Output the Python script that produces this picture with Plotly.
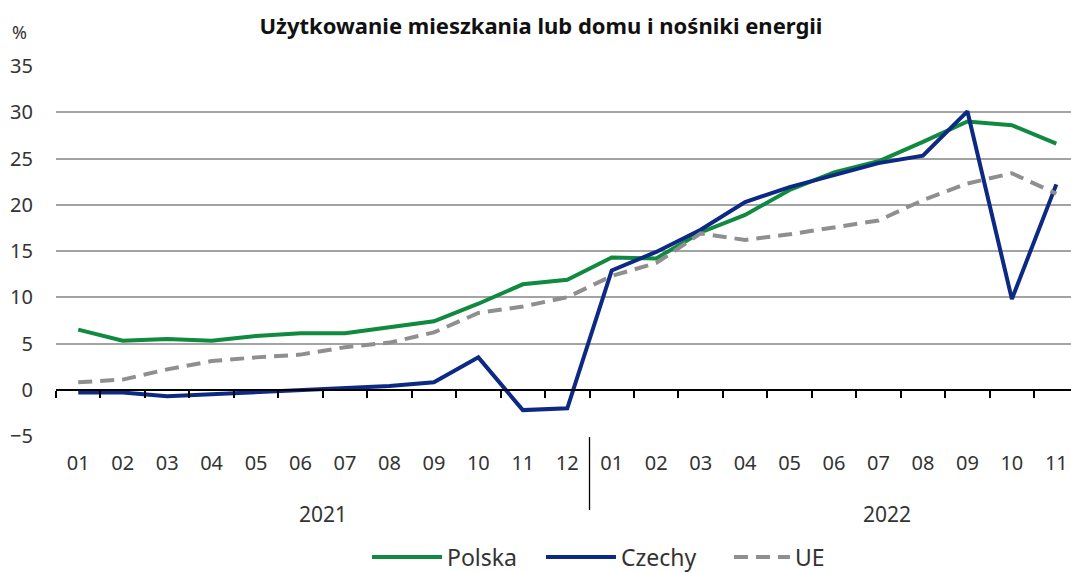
import plotly.graph_objects as go

months = ["01", "02", "03", "04", "05", "06", "07", "08", "09", "10", "11", "12",
          "01", "02", "03", "04", "05", "06", "07", "08", "09", "10", "11"]
years = ["2021", "2022"]

polska = [6.5, 5.3, 5.5, 5.3, 5.8, 6.1, 6.1, 6.7, 7.4, 9.3, 11.4, 11.9,
          14.3, 14.2, 17.0, 18.9, 21.6, 23.5, 24.7, 26.8, 29.0, 28.6, 26.6]
czechy = [-0.3, -0.3, -0.7, -0.5, -0.3, 0.0, 0.2, 0.4, 0.8, 3.5, -2.2, -2.0,
          12.9, 14.9, 17.3, 20.3, 21.9, 23.2, 24.5, 25.3, 30.1, 9.8, 22.2]
ue = [0.8, 1.1, 2.2, 3.1, 3.5, 3.8, 4.6, 5.1, 6.2, 8.3, 9.0, 10.0,
      12.3, 13.7, 16.9, 16.2, 16.8, 17.5, 18.3, 20.5, 22.3, 23.4, 21.2]

title = "Użytkowanie mieszkania lub domu i nośniki energii"
FONT = "Noto Sans"
TXT = "#333333"

x = list(range(len(months)))

fig = go.Figure()
fig.add_trace(go.Scatter(x=x, y=polska, name="Polska", mode="lines", legend="legend",
                         line=dict(color="#0f8a3e", width=4)))
fig.add_trace(go.Scatter(x=x, y=czechy, name="Czechy", mode="lines", legend="legend2",
                         line=dict(color="#0c2a84", width=4)))
fig.add_trace(go.Scatter(x=x, y=ue, name="UE", mode="lines", legend="legend3",
                         line=dict(color="#8f8f8f", width=4, dash="14px,8px")))

# zero-line axis with category-boundary ticks (paper position of y=0)
y0_frac = (0 - (-5)) / (35 - (-5))

leg_common = dict(orientation="h", xanchor="left", yref="container",
                  y=1 - 557 / 572, yanchor="middle",
                  font=dict(size=23, color=TXT), bgcolor="rgba(0,0,0,0)")

fig.update_layout(
    width=1071, height=572,
    margin=dict(l=56, r=0, t=66, b=136),
    paper_bgcolor="white", plot_bgcolor="white",
    font=dict(family=FONT, size=20, color=TXT),
    title=dict(text="<b>" + title + "</b>", x=0.5051, xanchor="center",
               y=0.9545, yanchor="middle", font=dict(size=22, color="#111111")),
    showlegend=True,
    legend=dict(x=0.3064, itemwidth=70, **leg_common),
    legend2=dict(x=0.4778, itemwidth=70, **leg_common),
    legend3=dict(x=0.663, itemwidth=56, **leg_common),
    xaxis=dict(range=[-0.5, 22.33], tickmode="array", tickvals=x, ticktext=months,
               showgrid=False, zeroline=False, showline=False, ticks="",
               automargin=False,
               ticklabelstandoff=13, tickfont=dict(size=20, color=TXT)),
    xaxis2=dict(range=[-0.5, 22.33], overlaying="x", anchor="free", position=y0_frac,
                side="bottom", tickmode="array", automargin=False,
                tickvals=[i - 0.5 for i in range(len(months) + 1)],
                showticklabels=False, ticks="outside", ticklen=7, tickwidth=1.5,
                tickcolor="#000000", showline=True, linecolor="#000000", linewidth=1.5,
                showgrid=False, zeroline=False),
    yaxis=dict(range=[-5, 35], tickvals=[-5, 0, 5, 10, 15, 20, 25, 30, 35],
               showgrid=True, gridcolor="#a3a3a3", gridwidth=1.5, zeroline=False,
               showline=False, ticks="outside", ticklen=18, automargin=False,
               tickcolor="rgba(0,0,0,0)", tickfont=dict(size=20, color=TXT)),
)

# dummy trace to activate xaxis2
fig.add_trace(go.Scatter(x=[x[0]], y=[None], xaxis="x2", showlegend=False,
                         hoverinfo="skip"))

fig.add_annotation(text="%", xref="paper", yref="paper", x=-0.0355, y=1.092,
                   xanchor="center", yanchor="middle", showarrow=False,
                   font=dict(size=18, color=TXT))
fig.add_annotation(text=years[0], x=5.5, xref="x", yref="paper", y=-0.211,
                   yanchor="middle", showarrow=False, font=dict(size=21, color=TXT))
fig.add_annotation(text=years[1], x=18.2, xref="x", yref="paper", y=-0.211,
                   yanchor="middle", showarrow=False, font=dict(size=21, color=TXT))
fig.add_shape(type="line", xref="x", yref="paper", x0=11.5, x1=11.5,
              y0=-0.003, y1=-0.2, line=dict(color="#000000", width=1.3))

fig.write_html("out.html", config={"displayModeBar": False},
               post_script="document.body.style.margin='0';"
                           "document.body.style.overflow='hidden';")
